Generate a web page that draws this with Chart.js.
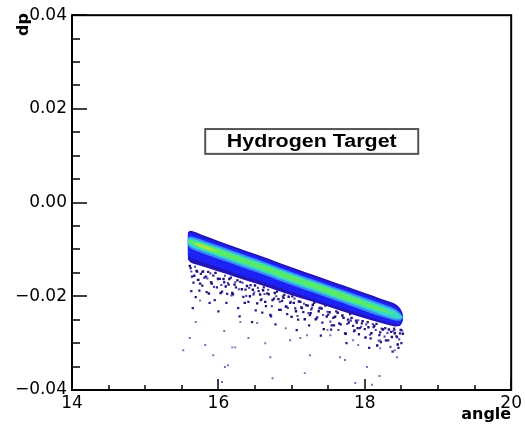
<!DOCTYPE html>
<html>
<head>
<meta charset="utf-8">
<script src="https://cdn.jsdelivr.net/npm/chart.js@4/dist/chart.umd.min.js"></script>
<style>
html, body { margin: 0; padding: 0; background: #fff; }
#wrap { width: 525px; height: 429px; }
</style>
</head>
<body>
<div id="wrap"><canvas id="histo" width="525" height="429"></canvas></div>
<script>
// --- values ---
const xTicks = [14, 16, 18, 20];
const yTicks = [-0.04, -0.02, 0.00, 0.02, 0.04];

// columns along the band and the dp of each colour contour
const bandAngle = [15.58, 15.62, 15.8, 16.2, 16.6, 17.0, 17.4, 17.8, 18.2, 18.4, 18.48, 18.52];
const navyTop  = [-0.0064, -0.0060, -0.0070, -0.0093, -0.0115, -0.0138, -0.0160, -0.0182, -0.0204, -0.0215, -0.0225, -0.0237];
const navyBot  = [-0.0120, -0.0128, -0.0137, -0.0157, -0.0177, -0.0198, -0.0217, -0.0237, -0.0256, -0.0264, -0.0263, -0.0253];
const blueTop  = [-0.0068, -0.0064, -0.0075, -0.0097, -0.0119, -0.0142, -0.0164, -0.0186, -0.0208, -0.0220, -0.0229, -0.0241];
const blueBot  = [-0.0112, -0.0118, -0.0128, -0.0149, -0.0169, -0.0191, -0.0211, -0.0231, -0.0251, -0.0259, -0.0259, -0.0251];
const lightTop = [-0.0076, -0.0072, -0.0081, -0.0103, -0.0125, -0.0148, -0.0170, -0.0192, -0.0214, -0.0226, -0.0235, -0.0245];
const lightBot = [-0.0090, -0.0098, -0.0109, -0.0131, -0.0153, -0.0176, -0.0198, -0.0220, -0.0242, -0.0251, -0.0252, -0.0245];
const cyanTop  = [-0.0079, -0.0076, -0.0085, -0.0107, -0.0129, -0.0152, -0.0174, -0.0196, -0.0218, -0.0230, -0.0239, -0.0245];
const cyanBot  = [-0.0086, -0.0093, -0.0104, -0.0126, -0.0148, -0.0171, -0.0193, -0.0215, -0.0237, -0.0247, -0.0248, -0.0245];
const greenTop = [-0.0082, -0.0080, -0.0088, -0.0110, -0.0132, -0.0155, -0.0177, -0.0199, -0.0223, -0.0237, -0.0243, -0.0245];
const greenBot = [-0.0082, -0.0088, -0.0100, -0.0122, -0.0144, -0.0167, -0.0189, -0.0211, -0.0231, -0.0239, -0.0243, -0.0245];

// brightest spot near the start of the band
const limeAngle = [15.66, 15.75, 15.9, 16.0];
const limeTop   = [-0.0086, -0.0088, -0.0097, -0.0105];
const limeBot   = [-0.0086, -0.0095, -0.0103, -0.0105];

// low-count bins hugging the lower edge of the band
const nearAngle = [15.61, 15.67, 15.71, 15.75, 15.79, 15.83, 15.87, 15.91, 15.96, 16.00, 16.03, 16.07, 16.10, 16.15, 16.19, 16.22,
  16.26, 16.32, 16.36, 16.39, 16.43, 16.47, 16.50, 16.53, 16.57, 16.61, 16.64, 16.67, 16.71, 16.74, 16.77, 16.82, 16.85, 16.89,
  16.93, 16.96, 17.00, 17.03, 17.06, 17.10, 17.14, 17.18, 17.22, 17.26, 17.29, 17.33, 17.37, 17.41, 17.44, 17.48, 17.52, 17.55,
  17.59, 17.63, 17.67, 17.71, 17.74, 17.78, 17.82, 17.86, 17.89, 17.93, 17.97, 18.01, 18.05, 18.09, 18.13, 18.17, 18.21, 18.25,
  18.29, 18.33, 18.37, 18.41, 18.45, 18.49, 18.52];
const nearDp = [-0.0135, -0.0156, -0.0147, -0.0173, -0.0147, -0.0158, -0.0194, -0.0173, -0.0150, -0.0163, -0.0193, -0.0163, -0.0179, -0.0163, -0.0193, -0.0175,
  -0.0166, -0.0185, -0.0214, -0.0178, -0.0200, -0.0186, -0.0177, -0.0215, -0.0196, -0.0187, -0.0212, -0.0194, -0.0240, -0.0208, -0.0193, -0.0206, -0.0229, -0.0203,
  -0.0222, -0.0201, -0.0244, -0.0214, -0.0232, -0.0211, -0.0225, -0.0249, -0.0220, -0.0236, -0.0218, -0.0249, -0.0232, -0.0226, -0.0270, -0.0243, -0.0234, -0.0262,
  -0.0244, -0.0235, -0.0260, -0.0246, -0.0280, -0.0256, -0.0246, -0.0273, -0.0256, -0.0268, -0.0253, -0.0288, -0.0266, -0.0279, -0.0263, -0.0305, -0.0277, -0.0271,
  -0.0294, -0.0271, -0.0287, -0.0279, -0.0303, -0.0272, -0.0280];

// lighter haze of single entries in the same strip
const hazeAngle = [15.63, 15.68, 15.73, 15.78, 15.85, 15.89, 15.94, 15.99, 16.04, 16.09, 16.13, 16.18, 16.23, 16.28, 16.33, 16.38,
  16.42, 16.49, 16.54, 16.59, 16.63, 16.68, 16.73, 16.79, 16.84, 16.88, 16.95, 16.99, 17.04, 17.08, 17.13, 17.17, 17.23, 17.28,
  17.34, 17.39, 17.43, 17.49, 17.53, 17.60, 17.64, 17.70, 17.76, 17.81, 17.85, 17.91, 17.95, 18.02, 18.07, 18.11, 18.15, 18.19,
  18.23, 18.27, 18.31, 18.35, 18.39, 18.43, 18.47, 18.51];
const hazeDp = [-0.0147, -0.0137, -0.0165, -0.0148, -0.0162, -0.0151, -0.0180, -0.0162, -0.0176, -0.0156, -0.0172, -0.0198, -0.0170, -0.0185, -0.0171, -0.0199,
  -0.0182, -0.0192, -0.0182, -0.0206, -0.0195, -0.0186, -0.0221, -0.0200, -0.0212, -0.0200, -0.0225, -0.0212, -0.0205, -0.0242, -0.0223, -0.0216, -0.0236, -0.0224,
  -0.0248, -0.0224, -0.0240, -0.0233, -0.0254, -0.0243, -0.0272, -0.0241, -0.0259, -0.0252, -0.0275, -0.0251, -0.0265, -0.0260, -0.0282, -0.0259, -0.0272, -0.0295,
  -0.0269, -0.0286, -0.0278, -0.0308, -0.0274, -0.0285, -0.0292, -0.0273];

// low-count bins a little further under the band
const tailAngle = [15.62, 15.64, 15.66, 15.63, 15.70, 15.72, 15.69, 15.76, 15.78, 15.81, 15.84, 15.86, 15.90, 15.93, 15.95, 15.98,
  16.02, 16.05, 16.08, 16.11, 16.14, 16.17, 16.20, 16.24, 16.27, 16.30, 16.34, 16.37, 16.41, 16.44, 16.48, 16.51, 16.55, 16.58,
  16.62, 16.65, 16.69, 16.72, 16.76, 16.80, 16.83, 16.87, 16.90, 16.94, 16.98, 17.01, 17.05, 17.09, 17.12, 17.16, 17.20, 17.24,
  17.27, 17.31, 17.35, 17.38, 17.42, 17.46, 17.50, 17.54, 17.57, 17.61, 17.65, 17.69, 17.73, 17.77, 17.80, 17.84, 17.88, 17.92,
  17.96, 18.00, 18.04, 18.08, 18.12, 18.16, 18.20, 18.24, 18.28, 18.32, 18.36, 18.40, 18.44, 18.48, 18.50, 18.46,
  15.65, 15.74, 15.88, 16.00, 16.12, 16.29, 16.46, 16.60, 16.78, 16.92, 17.07, 17.25, 17.40, 17.58, 17.75, 17.90, 18.06, 18.22, 18.38];
const tailDp = [-0.0140, -0.0158, -0.0171, -0.0189, -0.0146, -0.0165, -0.0202, -0.0152, -0.0177, -0.0160, -0.0191, -0.0148, -0.0170, -0.0156, -0.0208, -0.0181,
  -0.0163, -0.0190, -0.0170, -0.0214, -0.0175, -0.0160, -0.0196, -0.0181, -0.0225, -0.0169, -0.0201, -0.0186, -0.0212, -0.0176, -0.0196, -0.0230, -0.0189, -0.0208,
  -0.0181, -0.0221, -0.0196, -0.0243, -0.0205, -0.0190, -0.0229, -0.0210, -0.0197, -0.0238, -0.0214, -0.0200, -0.0226, -0.0250, -0.0212, -0.0234, -0.0219, -0.0262,
  -0.0228, -0.0214, -0.0245, -0.0226, -0.0256, -0.0220, -0.0239, -0.0271, -0.0246, -0.0232, -0.0258, -0.0241, -0.0279, -0.0250, -0.0238, -0.0263, -0.0252, -0.0281,
  -0.0258, -0.0270, -0.0255, -0.0290, -0.0266, -0.0259, -0.0283, -0.0270, -0.0268, -0.0294, -0.0276, -0.0269, -0.0287, -0.0279, -0.0300, -0.0310,
  -0.0225, -0.0188, -0.0214, -0.0232, -0.0195, -0.0243, -0.0255, -0.0235, -0.0260, -0.0222, -0.0272, -0.0240, -0.0284, -0.0262, -0.0300, -0.0268, -0.0310, -0.0298, -0.0318];

// isolated entries further down
const farAngle = [15.82, 16.19, 16.64, 17.12, 17.18, 17.91, 18.41, 16.08, 15.61, 16.13, 16.71, 17.80, 16.30, 15.69, 16.53, 17.53,
  18.21, 18.41, 16.05, 18.10, 17.87, 17.73, 17.25, 16.92, 16.41, 15.52, 15.75, 16.09, 16.23, 17.66, 18.03, 18.21, 18.44, 15.93,
  16.98, 17.21, 17.49, 17.84, 16.74, 18.20];
const farDp = [-0.0304, -0.0309, -0.0300, -0.0289, -0.0364, -0.0304, -0.0315, -0.0274, -0.0289, -0.0347, -0.0330, -0.0251, -0.0255, -0.0255, -0.0257, -0.0283,
  -0.0294, -0.0272, -0.0383, -0.0389, -0.0385, -0.0336, -0.0326, -0.0268, -0.0289, -0.0315, -0.0209, -0.0351, -0.0309, -0.0330, -0.0351, -0.0311, -0.0330, -0.0326,
  -0.0294, -0.0283, -0.0272, -0.0294, -0.0375, -0.0370];

function pts(xs, ys) {
    return xs.map((x, i) => ({ x: x, y: ys[i] }));
}

// a filled contour = upper edge filled down to the next dataset (lower edge)
function layer(xs, top, bot, colour, order) {
    return [
        { data: pts(xs, top), showLine: true, borderWidth: 0, pointRadius: 0, fill: '+1', backgroundColor: colour, order: order },
        { data: pts(xs, bot), showLine: true, borderWidth: 0, pointRadius: 0, fill: false, backgroundColor: colour, order: order }
    ];
}

// draw text stretched to a given width
function wideText(ctx, text, x, y, width) {
    const w = ctx.measureText(text).width;
    ctx.save();
    ctx.translate(x, y);
    ctx.scale(width / w, 1);
    ctx.fillText(text, 0, 0);
    ctx.restore();
}

// ROOT-like frame, inner ticks, axis titles and the label box
const rootFrame = {
    id: 'rootFrame',
    afterDraw(chart) {
        const ctx = chart.ctx;
        const a = chart.chartArea;
        const xs = chart.scales.x, ys = chart.scales.y;
        ctx.save();
        ctx.strokeStyle = '#000';
        ctx.lineWidth = 2;
        ctx.strokeRect(a.left, a.top, a.right - a.left, a.bottom - a.top);

        ctx.lineWidth = 1.5;
        ctx.beginPath();
        for (let v = 14; v <= 20.001; v += 0.5) {
            const px = Math.round(xs.getPixelForValue(v));
            const len = (Math.abs(v % 2) < 0.001) ? 11 : 5;
            ctx.moveTo(px, a.bottom);
            ctx.lineTo(px, a.bottom - len);
        }
        for (let k = -8; k <= 8; k++) {
            const v = k * 0.005;
            const py = Math.round(ys.getPixelForValue(v));
            const len = (k % 4 === 0) ? 15 : 8;
            ctx.moveTo(a.left, py);
            ctx.lineTo(a.left + len, py);
        }
        ctx.stroke();

        ctx.fillStyle = '#000';
        ctx.font = 'bold 16px "DejaVu Sans", sans-serif';
        ctx.textAlign = 'right';
        ctx.textBaseline = 'alphabetic';
        ctx.fillText('angle', a.right, 419);

        ctx.save();
        ctx.translate(28, 13);
        ctx.rotate(-Math.PI / 2);
        ctx.textAlign = 'right';
        ctx.fillText('dp', 0, 0);
        ctx.restore();

        // label box
        const bx0 = xs.getPixelForValue(15.82), bx1 = xs.getPixelForValue(18.73);
        const by0 = ys.getPixelForValue(0.0157), by1 = ys.getPixelForValue(0.0104);
        ctx.fillStyle = '#fff';
        ctx.fillRect(bx0, by0, bx1 - bx0, by1 - by0);
        ctx.strokeStyle = '#555';
        ctx.lineWidth = 2;
        ctx.strokeRect(bx0, by0, bx1 - bx0, by1 - by0);
        ctx.fillStyle = '#000';
        ctx.font = 'bold 18px "Liberation Sans", Arial, sans-serif';
        ctx.textAlign = 'left';
        ctx.textBaseline = 'middle';
        wideText(ctx, 'Hydrogen Target', (bx0 + bx1) / 2 - 85, (by0 + by1) / 2 + 1, 170);
        ctx.restore();
    }
};

Chart.defaults.font.family = '"DejaVu Sans", sans-serif';
Chart.defaults.color = '#000';

const ctx = document.getElementById('histo').getContext('2d');
new Chart(ctx, {
    type: 'scatter',
    data: {
        datasets: [
            { data: pts(farAngle, farDp), pointStyle: 'rect', pointRadius: 1.4, backgroundColor: '#7a70b8', borderWidth: 0, order: 21 },
            { data: pts(hazeAngle, hazeDp), pointStyle: 'rect', pointRadius: 1.5, backgroundColor: '#5546ac', borderWidth: 0, order: 20 },
            { data: pts(tailAngle, tailDp), pointStyle: 'rect', pointRadius: 1.6, backgroundColor: '#2a1a86', borderWidth: 0, order: 19 },
            { data: pts(nearAngle, nearDp), pointStyle: 'rect', pointRadius: 1.7, backgroundColor: '#1e0e78', borderWidth: 0, order: 18 },
            ...layer(bandAngle, navyTop, navyBot, '#2414b4', 10),
            ...layer(bandAngle, blueTop, blueBot, '#1c22f4', 9),
            ...layer(bandAngle, lightTop, lightBot, '#3a8cf6', 8),
            ...layer(bandAngle, cyanTop, cyanBot, '#35d8d0', 7),
            ...layer(bandAngle, greenTop, greenBot, '#58ea6a', 6),
            ...layer(limeAngle, limeTop, limeBot, '#a8e64a', 5)
        ]
    },
    options: {
        responsive: false,
        animation: false,
        devicePixelRatio: 1,
        layout: { padding: { top: 14, right: 13, left: 0, bottom: 0 } },
        plugins: {
            legend: { display: false },
            tooltip: { enabled: false },
            title: { display: false }
        },
        elements: { line: { tension: 0.3 } },
        scales: {
            x: {
                type: 'linear',
                min: 14,
                max: 20,
                grid: { display: false, drawTicks: false },
                border: { display: false },
                afterFit: (s) => { s.height = 39; },
                afterBuildTicks: (s) => { s.ticks = xTicks.map(v => ({ value: v })); },
                ticks: { font: { size: 17 }, padding: 3, maxRotation: 0, autoSkip: false }
            },
            y: {
                type: 'linear',
                min: -0.04,
                max: 0.04,
                grid: { display: false, drawTicks: false },
                border: { display: false },
                afterFit: (s) => { s.width = 72; },
                afterBuildTicks: (s) => { s.ticks = yTicks.map(v => ({ value: v })); },
                ticks: {
                    font: { size: 17 },
                    padding: 5,
                    callback: (v) => v.toFixed(2).replace('-', '\u2212').replace('\u22120.00', '0.00')
                }
            }
        }
    },
    plugins: [rootFrame]
});
</script>
</body>
</html>
